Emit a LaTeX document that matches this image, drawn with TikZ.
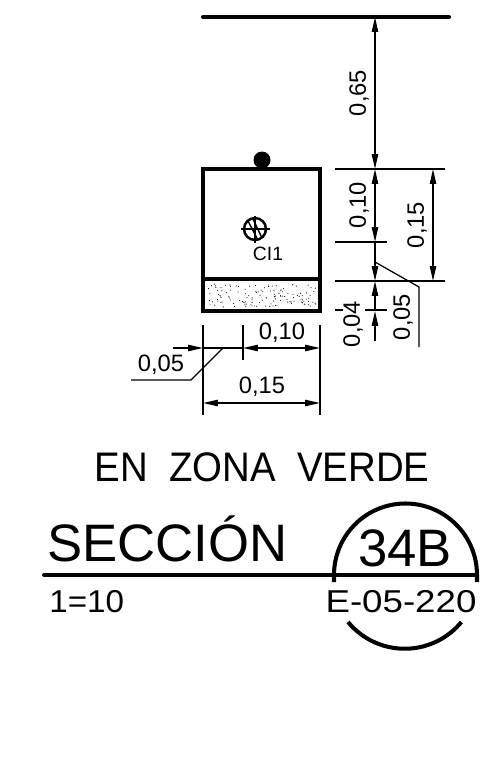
\documentclass[tikz,border=0pt]{standalone}
\usepackage{fontspec}
\setmainfont{Liberation Sans}
\usetikzlibrary{arrows.meta}
\tikzset{
  heavy/.style={line width=2.3pt},
  thin line/.style={line width=0.7pt},
  dimline/.style={line width=0.8pt,{Triangle[length=8.5pt,width=3.6pt]}-{Triangle[length=8.5pt,width=3.6pt]}},
  onetip/.style={line width=0.8pt,-{Triangle[length=8.5pt,width=3.6pt]}},
  dimtext/.style={font=\fontsize{13.5}{13.5}\selectfont,inner sep=0pt},
  dimup/.style={dimtext,rotate=90},
  bigtext/.style={font=\fontsize{30}{30}\selectfont,inner sep=0pt},
  smalltext/.style={font=\fontsize{18}{18}\selectfont,inner sep=0pt}
}
\begin{document}
\begin{tikzpicture}[x=0.02cm,y=-0.02cm]
  \useasboundingbox (0,0) rectangle (504,768);
  % top line and box
  \draw[heavy,line cap=round] (203,17) -- (449,17);
  \draw[heavy,line join=miter] (203,169) -- (320,169) -- (320,311) -- (203,311) -- cycle;
  \draw[heavy] (203,279) -- (320,279);
  \fill (262,160) circle (8.5);
  % dots of the sand band
  \pgfmathsetseed{34}
  \foreach \i in {1,...,130} {
    \pgfmathsetmacro{\dotx}{208+108*rnd}
    \pgfmathsetmacro{\doty}{284+23*rnd}
    \fill (\dotx,\doty) circle (0.55);
  }
  % symbol
  \draw[line width=1.4pt] (255,229) circle (11);
  \draw[thin line] (241,229) -- (270,229);
  \draw[thin line] (255,216) -- (255,243);
  \draw[line width=0.8pt] (253,219) -- (262,238);
  \draw[line width=0.8pt] (248,221) -- (258,240);
  \node[font=\fontsize{11}{11}\selectfont,inner sep=0pt] (cione) at (268,254) {CI1};
  % vertical extension lines
  \draw[line width=0.9pt] (335,169) -- (387,169);
  \draw[thin line] (387,169) -- (445,169);
  \draw[thin line] (335,242) -- (387,242);
  \draw[line width=0.9pt] (335,281) -- (387,281);
  \draw[thin line] (387,281) -- (445,281);
  \draw[thin line] (335,310) -- (343,310);
  \draw[thin line] (365,310) -- (387,310);
  % vertical dimensions
  \draw[dimline] (375,17) -- (375,169);
  \draw[dimline] (375,169) -- (375,242);
  \draw[onetip] (375,242) -- (375,281);
  \draw[onetip] (375,311) -- (375,281);
  \draw[onetip] (375,341) -- (375,311);
  \draw[dimline] (433,169) -- (433,281);
  \draw[thin line] (375,262) -- (419,287) -- (419,347);
  \node[dimup] (labsixfive) at (359,93) {0,65};
  \node[dimup] (labten) at (359,205) {0,10};
  \node[dimup] (labfifteen) at (417,225) {0,15};
  \node[dimup] (labfour) at (353,324) {0,04};
  \node[dimup] (labfive) at (403,317) {0,05};
  % horizontal dimensions
  \draw[thin line] (203,325) -- (203,415);
  \draw[thin line] (243,325) -- (243,360);
  \draw[thin line] (320,325) -- (320,415);
  \draw[onetip] (173,348) -- (203,348);
  \draw[thin line] (203,348) -- (243,348);
  \draw[dimline] (243,348) -- (320,348);
  \draw[dimline] (203,403) -- (320,403);
  \draw[thin line] (223,348) -- (191,380) -- (131,380);
  \node[dimtext] (labfivebis) at (161,365) {0,05};
  \node[dimtext] (labtenbis) at (282,333) {0,10};
  \node[dimtext] (labfifteenbis) at (262,387) {0,15};
  % title
  \node[font=\fontsize{23.5}{23.5}\selectfont,inner sep=0pt,xscale=0.93] (zona) at (262,467) {EN\ \ ZONA\ \ VERDE};
  \node[bigtext,anchor=west] (seccion) at (47,539) {SECCIÓN};
  \draw[heavy,line cap=round] (44,575) -- (477,575);
  \draw[heavy] (334,582) -- (334,575) arc[start angle=180,end angle=360,radius=71.5] -- (477,582);
  \draw[heavy] (348,622) arc[start angle=140.5,end angle=39.5,radius=73.5];
  \node[bigtext] (numero) at (405,548) {34B};
  \node[smalltext,xscale=1.05,anchor=west] (escala) at (49,602) {1=10};
  \node[smalltext,xscale=1.16] (plano) at (401,602) {E-05-220};
\end{tikzpicture}
\end{document}
